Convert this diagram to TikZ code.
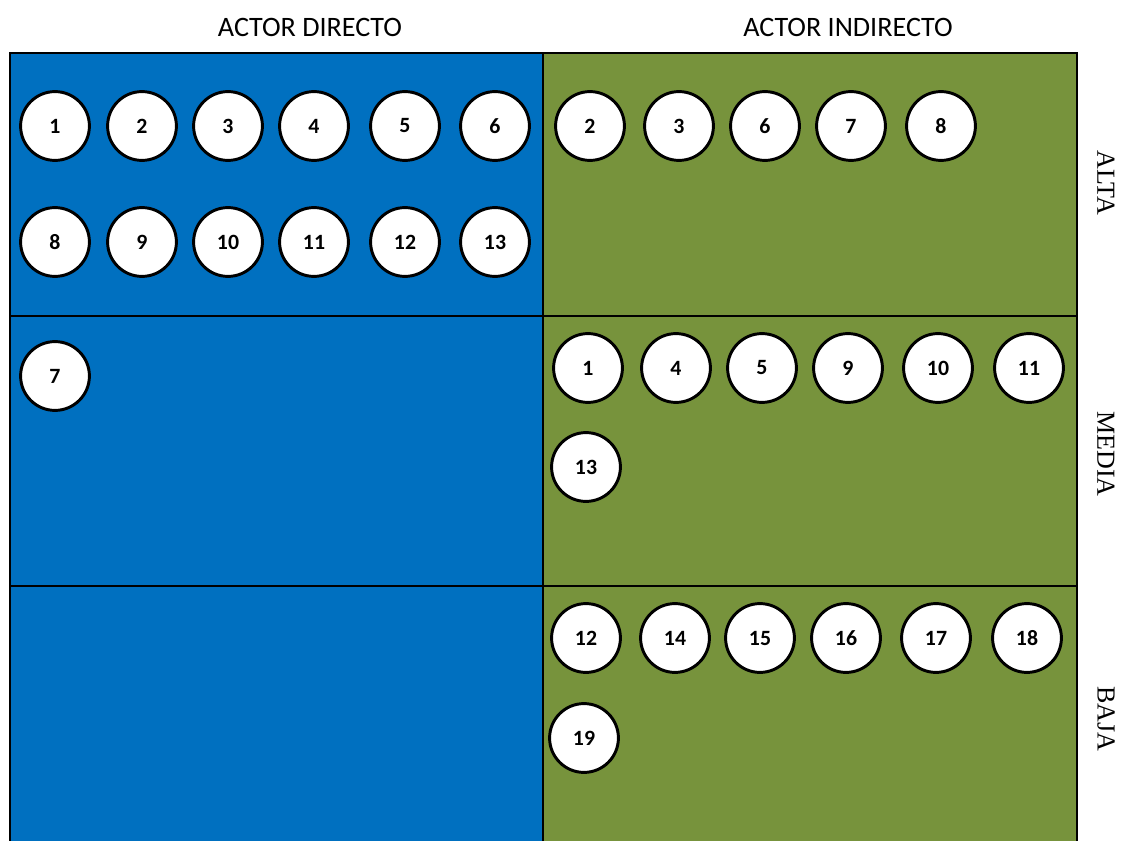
\documentclass[tikz,border=0pt]{standalone}
\usepackage{fontspec}
\setmainfont{Liberation Serif}
\newfontfamily\calibri{Carlito}
\usetikzlibrary{positioning}
\definecolor{azul}{HTML}{0070C0}
\definecolor{verde}{HTML}{77933C}

\begin{document}
\begin{tikzpicture}[
    x=0.025cm, y=-0.025cm,
    actor/.style={draw, circle, fill=white, line width=2.1pt, minimum size=1.72cm, inner sep=0pt, font=\calibri\bfseries\fontsize{15.5}{17}\selectfont},
    header/.style={font=\calibri\fontsize{20}{24}\selectfont},
    level/.style={rotate=-90, font=\fontsize{18.5}{20}\selectfont},
    grid/.style={draw=black, line width=1.7pt}
]
    \useasboundingbox (0,0) rectangle (1121,841);
    \clip (0,0) rectangle (1121,841);

    % cuadrantes
    \fill[azul] (10,53) rectangle (543,870);
    \fill[verde] (543,53) rectangle (1077,870);
    \draw[grid] (10,870) -- (10,53) -- (1077,53) -- (1077,870);
    \draw[grid] (543,53) -- (543,870);
    \draw[grid] (10,316) -- (1077,316);
    \draw[grid] (10,586) -- (1077,586);

    % encabezados
    \node[header] (directo) at (310,27) {ACTOR DIRECTO};
    \node[header] (indirecto) at (848,27) {ACTOR INDIRECTO};
    \node[level] (alta) at (1106,183) {ALTA};
    \node[level] (media) at (1106,454) {MEDIA};
    \node[level] (baja) at (1106,719) {BAJA};

    % actor directo
    \foreach \n/\x in {1/55,2/142,3/228,4/314,5/405,6/495}
        \node[actor] (da\n) at (\x,126) {\n};
    \foreach \n/\x in {8/55,9/142,10/228,11/314,12/405,13/495}
        \node[actor] (da\n) at (\x,242) {\n};
    \node[actor] (dm7) at (55,376) {7};

    % actor indirecto
    \foreach \n/\x in {2/590,3/679,6/765,7/851,8/941}
        \node[actor] (ia\n) at (\x,126) {\n};
    \foreach \n/\x in {1/588,4/676,5/762,9/848,10/938,11/1029}
        \node[actor] (im\n) at (\x,368) {\n};
    \node[actor] (im13) at (586,467) {13};
    \foreach \n/\x in {12/586,14/675,15/760,16/846,17/936,18/1027}
        \node[actor] (ib\n) at (\x,638) {\n};
    \node[actor] (ib19) at (584,738) {19};
\end{tikzpicture}
\end{document}
